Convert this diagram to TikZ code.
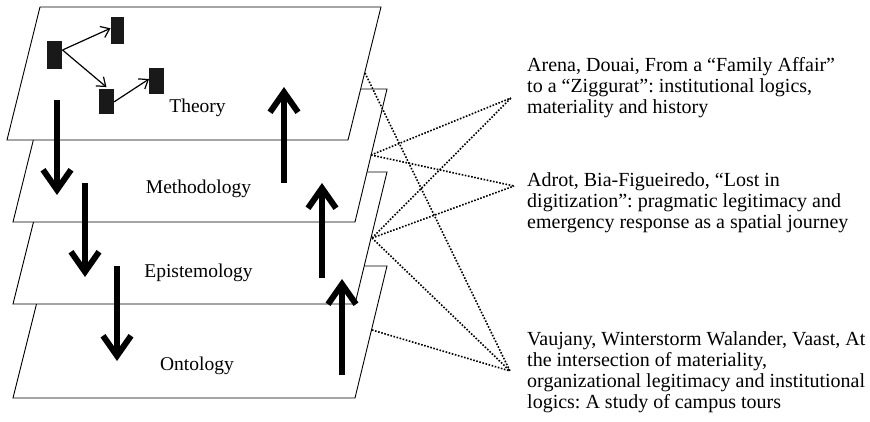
\documentclass[tikz,border=0pt]{standalone}
\usepackage{fontspec}
\setmainfont{Liberation Serif}
\usetikzlibrary{arrows.meta}
\frenchspacing
\begin{document}
\begin{tikzpicture}[x=1pt,y=-1pt,
  plane/.style={draw=black, line width=0.9pt, fill=white, line join=miter},
  flow/.style={line width=6pt, -{Straight Barb[length=20pt,width=28pt]}},
  link/.style={line width=1.6pt, dash pattern=on 1.6pt off 1.6pt},
  block/.style={fill=black!90, draw=none, inner sep=0pt},
  rel/.style={line width=1.2pt, -{Straight Barb[length=8pt,width=12pt]}},
  layer/.style={font=\fontsize{19.5}{21}\selectfont, anchor=base, inner sep=0pt},
  ref/.style={font=\fontsize{20}{21}\selectfont, anchor=base west, inner sep=0pt}
]
\useasboundingbox (0,0) rectangle (870,422);

% stacked planes, bottom one first
\draw[plane] (46,266) -- (387,266) -- (355,398) -- (13,398) -- cycle;
\draw[plane] (46,172) -- (387,172) -- (355,304) -- (13,304) -- cycle;
\draw[plane] (46,89) -- (387,89) -- (355,222) -- (13,222) -- cycle;
\draw[plane] (40,7) -- (381,7) -- (348,140) -- (7,140) -- cycle;

% plane labels
\node[layer] (theory) at (197.5,113) {Theory};
\node[layer] (method) at (198.5,194) {Methodology};
\node[layer] (episte) at (198.5,277) {Epistemology};
\node[layer] (onto)   at (197,370) {Ontology};

% small model drawn on the theory plane
\node[block, minimum width=15pt, minimum height=28.6pt] (r1) at (54.8,55) {};
\node[block, minimum width=13.6pt, minimum height=27pt] (r2) at (117.5,30.8) {};
\node[block, minimum width=15pt, minimum height=25pt] (r3) at (106.5,101.8) {};
\node[block, minimum width=14.7pt, minimum height=26.6pt] (r4) at (156.6,81) {};
\draw[rel] ([yshift=5pt]r1.east) -- ([yshift=2.5pt]r2.west);
\draw[rel] ([yshift=5pt]r1.east) -- ([yshift=2pt]r3.north);
\draw[rel] (r3.east) -- ([yshift=2pt]r4.west);

% downward arrows
\coordinate (d1a) at (57,100);  \coordinate (d1b) at (57,195);
\coordinate (d2a) at (85,183);  \coordinate (d2b) at (85,277);
\coordinate (d3a) at (117,266); \coordinate (d3b) at (117,361);
\draw[flow] (d1a) -- (d1b);
\draw[flow] (d2a) -- (d2b);
\draw[flow] (d3a) -- (d3b);

% upward arrows
\coordinate (u1a) at (284,183); \coordinate (u1b) at (284,87);
\coordinate (u2a) at (322,278); \coordinate (u2b) at (322,183);
\coordinate (u3a) at (342,375); \coordinate (u3b) at (342,279);
\draw[flow] (u1a) -- (u1b);
\draw[flow] (u2a) -- (u2b);
\draw[flow] (u3a) -- (u3b);

% references
\node[ref] (arena) at (527,71.7) {\begin{tabular}[t]{@{}l@{}}Arena, Douai, From a “Family Affair”\\to a “Ziggurat”: institutional logics,\\materiality and history\end{tabular}};
\node[ref] (adrot) at (527,186.7) {\begin{tabular}[t]{@{}l@{}}Adrot, Bia-Figueiredo, “Lost in\\digitization”: pragmatic legitimacy and\\emergency response as a spatial journey\end{tabular}};
\node[ref] (vauj) at (527,345) {\begin{tabular}[t]{@{}l@{}}Vaujany, Winterstorm Walander, Vaast, At\\the intersection of materiality,\\organizational legitimacy and institutional\\logics: A study of campus tours\end{tabular}};

% dotted links between planes and references
\coordinate (pT) at (365,73);
\coordinate (pM) at (371,155);
\coordinate (pE) at (372,238);
\coordinate (pO) at (372,330);
\coordinate (qA) at (511,98);
\coordinate (qD) at (514,186);
\coordinate (qV) at (510,371);
\draw[link] (pT) -- (qV);
\draw[link] (pM) -- (qA);
\draw[link] (pM) -- (qD);
\draw[link] (pE) -- (qA);
\draw[link] (pE) -- (qD);
\draw[link] (pE) -- (qV);
\draw[link] (pO) -- (qV);
\end{tikzpicture}
\end{document}
